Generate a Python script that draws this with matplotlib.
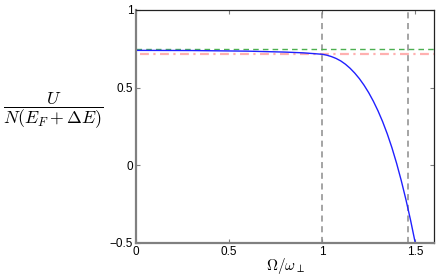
import numpy as np
import matplotlib
matplotlib.use('Agg')
import matplotlib.pyplot as plt

plt.rcParams['mathtext.fontset'] = 'cm'
plt.rcParams['font.family'] = ['Liberation Sans', 'DejaVu Sans']

# data
omega = [0, 0.3, 0.6, 0.8, 0.9, 1.0, 1.025, 1.05, 1.075, 1.1, 1.125, 1.15, 1.175,
         1.2, 1.225, 1.25, 1.275, 1.3, 1.325, 1.35, 1.375, 1.4, 1.425, 1.45, 1.475, 1.5]
energy = [0.74, 0.739, 0.735, 0.729, 0.724, 0.715, 0.709, 0.700, 0.688, 0.672, 0.651,
          0.625, 0.594, 0.558, 0.516, 0.468, 0.413, 0.351, 0.281, 0.202, 0.113, 0.013,
          -0.098, -0.220, -0.353, -0.498]
upper_level = 0.748
lower_level = 0.715
critical = [1.0, 1.46]
xticks = [0, 0.5, 1, 1.5]
yticks = [-0.5, 0, 0.5, 1]

fig = plt.figure(figsize=(4.36, 2.76), dpi=100)
ax = fig.add_axes([0.312, 0.1196, 0.683, 0.8442])

for c in critical:
    ax.axvline(c, color='#8c8c8c', ls=(0, (4, 3)), lw=1.1)
ax.axhline(upper_level, color='#4caf50', ls=(0, (4, 3)), lw=1.0)
ax.plot([0.02, 1.6], [lower_level, lower_level], color='#ffb0b0', ls=(0, (4, 2, 1, 2)), lw=1.6)
ax.plot(omega, energy, color='#2020ff', lw=1.0)

ax.set_xlim(0, 1.6)
ax.set_ylim(-0.5, 1)
ax.set_xticks(xticks)
ax.set_xticklabels(['0', '0.5', '1', '1.5'])
ax.set_yticks(yticks)
ax.set_yticklabels(['\u22120.5', '0', '0.5', '1'])
ax.tick_params(direction='in', length=3, width=0.8, color='#808080',
               labelsize=8.5, top=True, right=True, pad=2)

for s in ['left', 'bottom']:
    ax.spines[s].set_color('#808080')
    ax.spines[s].set_linewidth(1.6)
for s in ['top', 'right']:
    ax.spines[s].set_color('#222222')
    ax.spines[s].set_linewidth(0.9)

fig.text(53 / 436, 1 - 111 / 276, r'$\dfrac{U}{N(E_F+\Delta E)}$', fontsize=12.8,
         ha='center', va='center')
fig.text(285 / 436, 1 - 266 / 276, r'$\Omega/\omega_\perp$', fontsize=11,
         ha='center', va='center')

fig.savefig('out.png', dpi=100)
